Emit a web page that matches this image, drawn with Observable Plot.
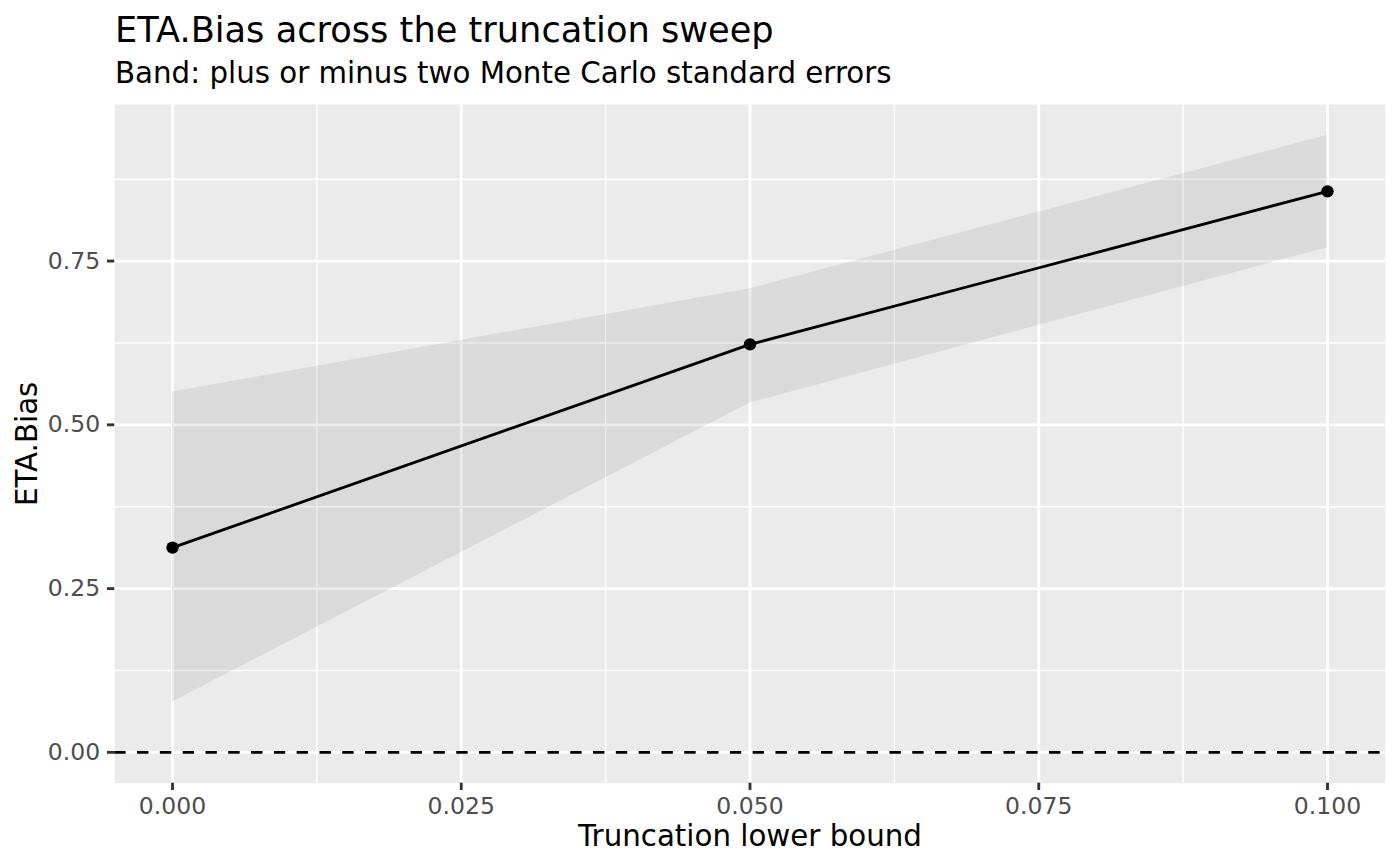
<!DOCTYPE html>
<html>
<head>
<meta charset="utf-8">
<script src="https://cdn.jsdelivr.net/npm/d3@7"></script>
<script src="https://cdn.jsdelivr.net/npm/@observablehq/plot@0.6"></script>
<style>
  html, body { margin: 0; padding: 0; background: #ffffff; }
  body { width: 1400px; height: 866px; overflow: hidden; font-family: "DejaVu Sans", sans-serif; }
  #header { position: relative; height: 95px; width: 1400px; }
  #title { position: absolute; left: 115px; top: 11.9px; font-size: 35.2px; line-height: 1; color: #000; white-space: nowrap; }
  #subtitle { position: absolute; left: 115px; top: 59.2px; font-size: 29.3px; line-height: 1; color: #000; white-space: nowrap; }
  #chart svg { display: block; }
</style>
</head>
<body>
<div id="header">
  <div id="title"></div>
  <div id="subtitle"></div>
</div>
<div id="chart"></div>
<script>
// ---- data ----
const truncation = [0.00, 0.05, 0.10];
const etaBias = [0.3125, 0.6228, 0.8564];
const bandLower = [0.0768, 0.5332, 0.7704];
const bandUpper = [0.5500, 0.7078, 0.9419];

const xTicks = [0.000, 0.025, 0.050, 0.075, 0.100];
const xMinor = [0.0125, 0.0375, 0.0625, 0.0875];
const yTicks = [0.00, 0.25, 0.50, 0.75];
const yMinor = [0.125, 0.375, 0.625, 0.875];

const titleText = "ETA.Bias across the truncation sweep";
const subtitleText = "Band: plus or minus two Monte Carlo standard errors";
const xLabel = "Truncation lower bound";
const yLabel = "ETA.Bias";

document.getElementById("title").textContent = titleText;
document.getElementById("subtitle").textContent = subtitleText;

const rows = truncation.map((t, i) => ({t, y: etaBias[i], lo: bandLower[i], hi: bandUpper[i]}));

// ggplot-like 5% expansion
const xMin = d3.min(truncation), xMax = d3.max(truncation);
const xPad = 0.05 * (xMax - xMin);
const yLo = Math.min(0, d3.min(bandLower)), yHi = d3.max(bandUpper);
const yPad = 0.05 * (yHi - yLo);

const font = "DejaVu Sans";
const majorW = 2.84, minorW = 1.42;

const chart = Plot.plot({
  width: 1400,
  height: 771,
  marginTop: 9,
  marginBottom: 83.3,
  marginLeft: 114.25,
  marginRight: 15.25,
  style: {fontFamily: font, background: "#ffffff", overflow: "visible"},
  x: {domain: [xMin - xPad, xMax + xPad]},
  y: {domain: [yLo - yPad, yHi + yPad]},
  marks: [
    Plot.frame({fill: "#EBEBEB", stroke: null}),
    Plot.ruleX(xMinor, {stroke: "#ffffff", strokeWidth: minorW}),
    Plot.ruleY(yMinor, {stroke: "#ffffff", strokeWidth: minorW}),
    Plot.ruleX(xTicks, {stroke: "#ffffff", strokeWidth: majorW}),
    Plot.ruleY(yTicks, {stroke: "#ffffff", strokeWidth: majorW}),
    Plot.areaY(rows, {x: "t", y1: "lo", y2: "hi", fill: "#444444", fillOpacity: 0.1}),
    Plot.ruleY([0], {stroke: "#000000", strokeWidth: 2.84, strokeDasharray: "11.4,11.4"}),
    Plot.line(rows, {x: "t", y: "y", stroke: "#000000", strokeWidth: 2.84}),
    Plot.dot(rows, {x: "t", y: "y", r: 6.2, fill: "#000000", stroke: null}),
    Plot.axisX(xTicks, {
      tickSize: 7.33, tickPadding: 6.3, strokeWidth: 2.84, stroke: "#333333", fill: "#4D4D4D",
      fontSize: 23.5, tickFormat: d3.format(".3f"), label: null
    }),
    Plot.axisY(yTicks, {
      tickSize: 7.33, tickPadding: 7.3, strokeWidth: 2.84, stroke: "#333333", fill: "#4D4D4D",
      fontSize: 23.5, tickFormat: d3.format(".2f"), label: null
    }),
    Plot.text([xLabel], {
      frameAnchor: "bottom", text: d => d, textAnchor: "middle", lineAnchor: "bottom", dy: 63,
      fontSize: 29.3, fill: "#000000"
    }),
    Plot.text([yLabel], {
      frameAnchor: "left", text: d => d, textAnchor: "middle", lineAnchor: "bottom", rotate: -90, dx: -78.25,
      fontSize: 29.3, fill: "#000000"
    })
  ]
});
document.getElementById("chart").appendChild(chart);
</script>
</body>
</html>
